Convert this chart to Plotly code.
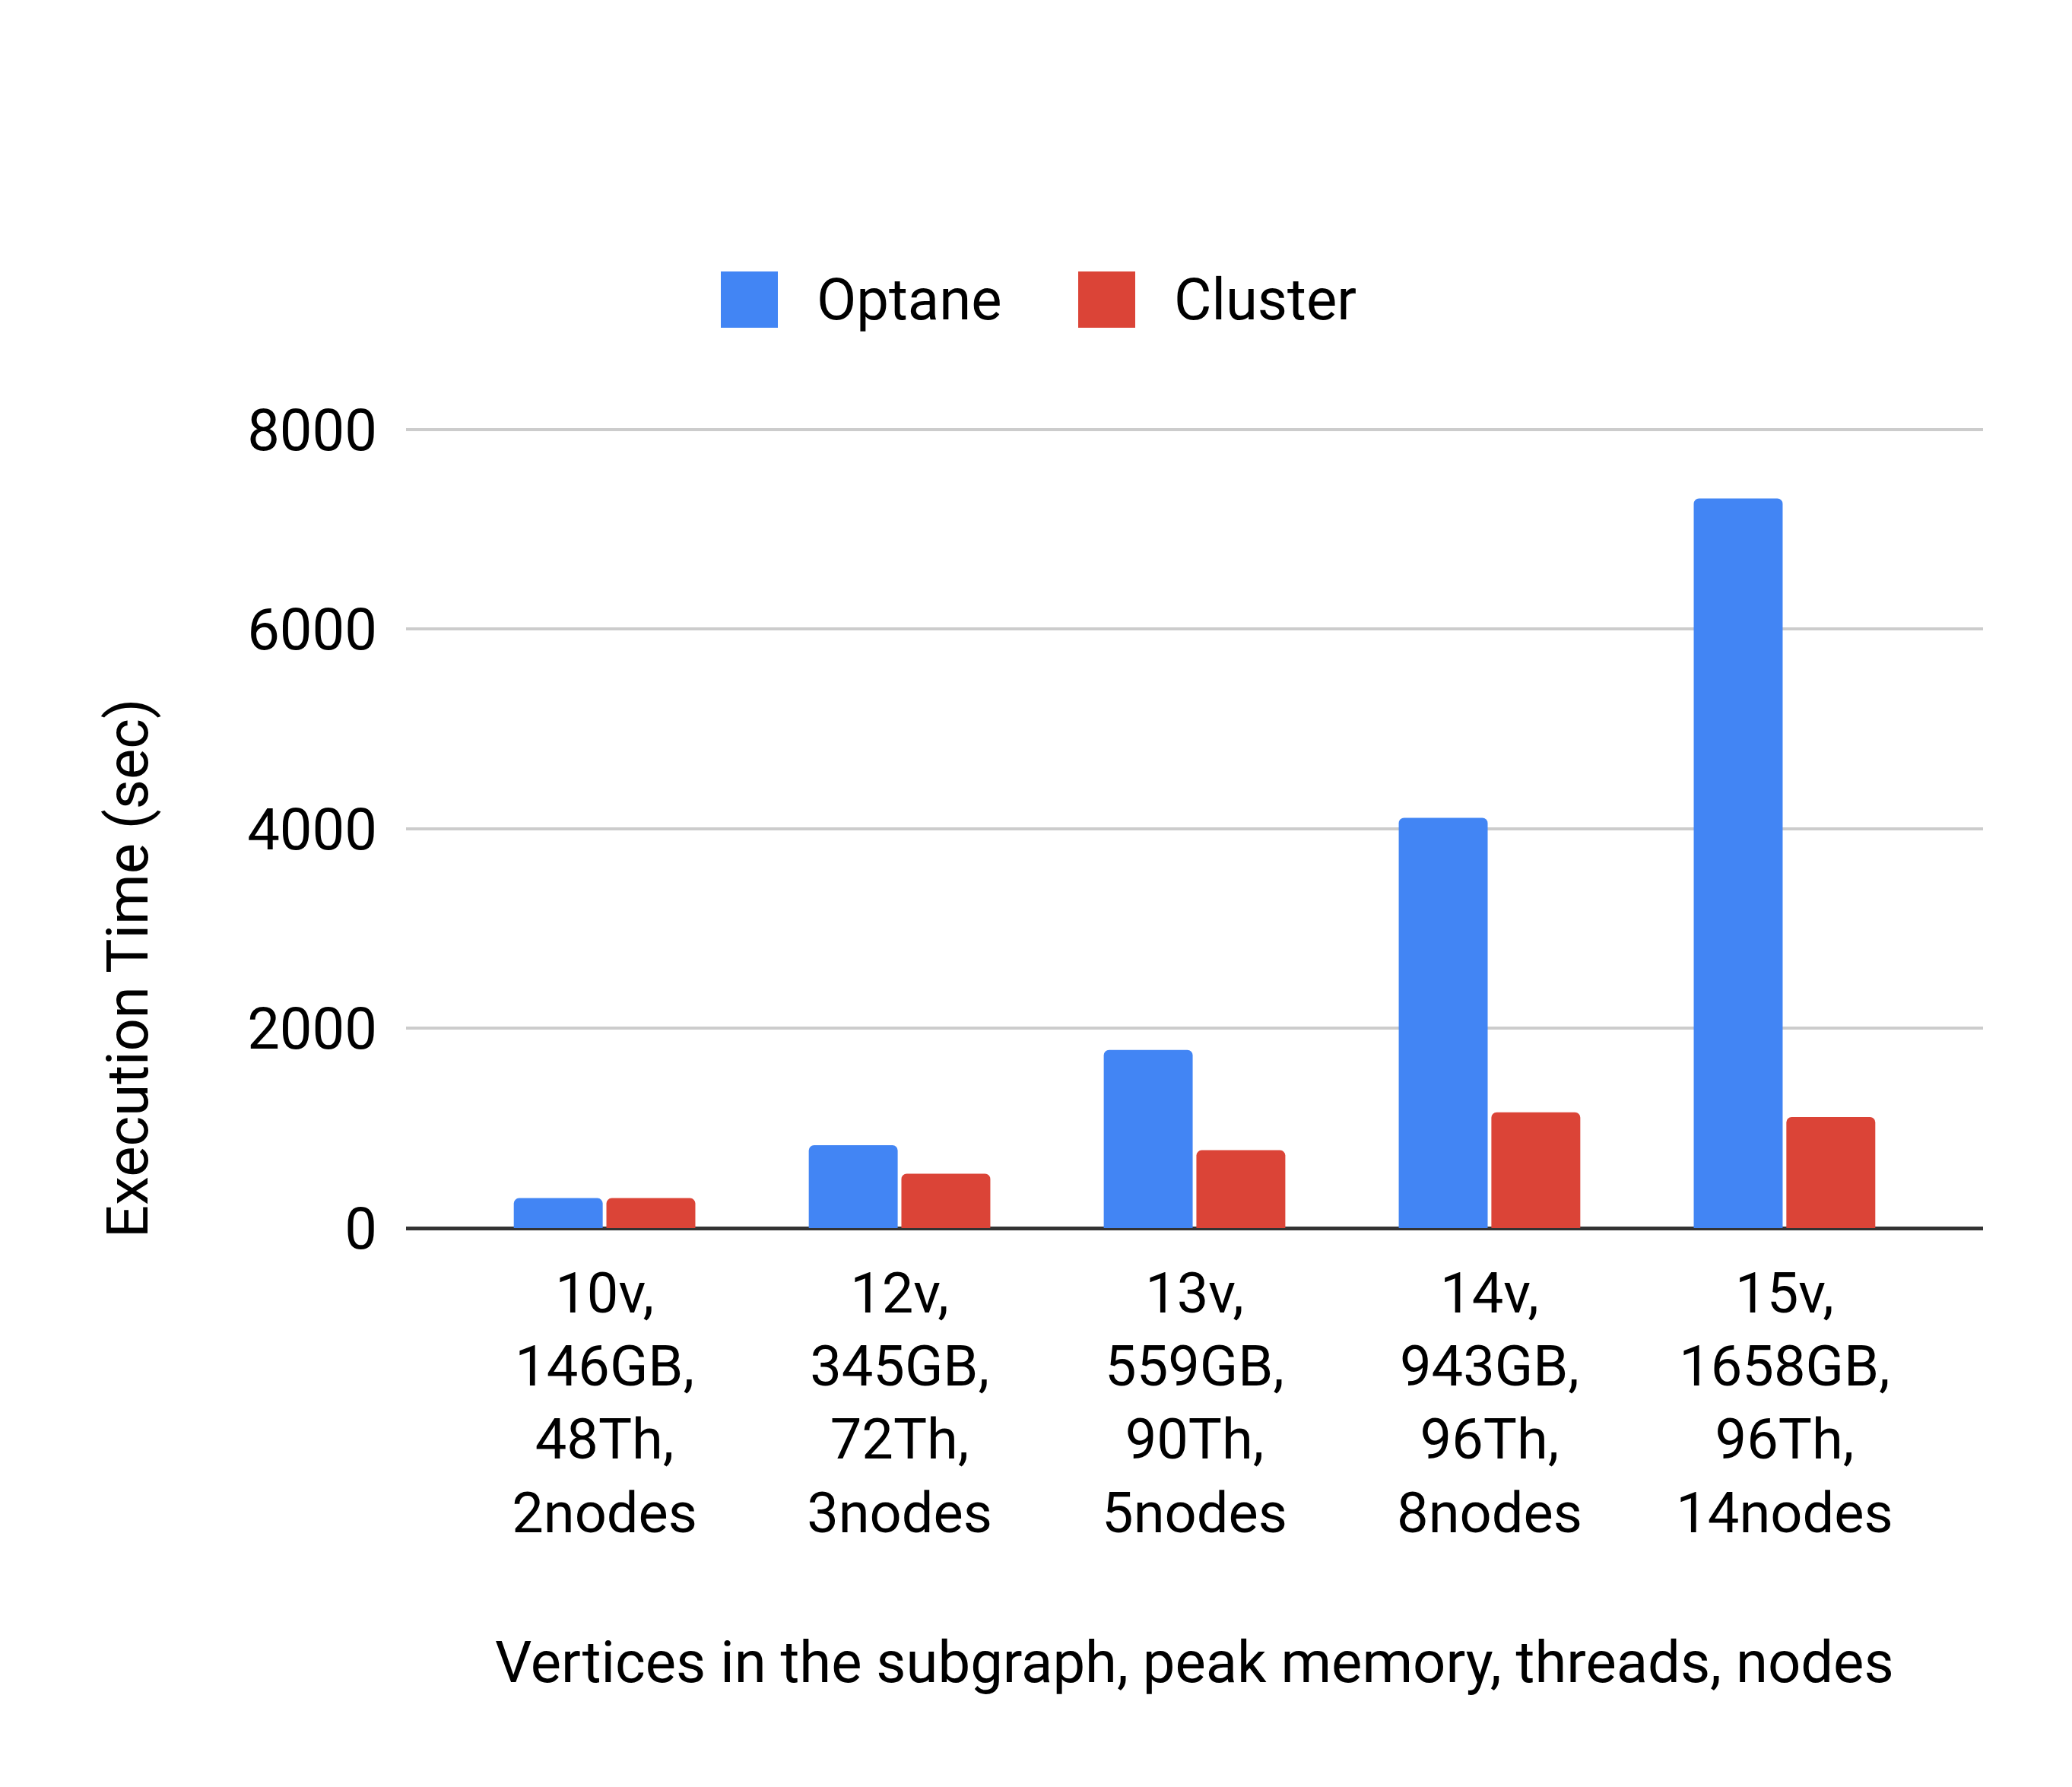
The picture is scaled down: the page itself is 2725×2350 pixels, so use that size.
import plotly.graph_objects as go

# data
categories = ['10v,<br>146GB,<br>48Th,<br>2nodes',
              '12v,<br>345GB,<br>72Th,<br>3nodes',
              '13v,<br>559GB,<br>90Th,<br>5nodes',
              '14v,<br>943GB,<br>96Th,<br>8nodes',
              '15v,<br>1658GB,<br>96Th,<br>14nodes']
optane = [300, 830, 1785, 4110, 7310]
cluster = [300, 545, 780, 1160, 1112]
series_names = ['Optane', 'Cluster']
series_colors = ['#4285F4', '#DB4437']
y_ticks = [0, 2000, 4000, 6000, 8000]

W, H = 2725, 2350
ML, MR, MT, MB = 526, 125, 555, 743
FONT = 'Roboto'
FS = 76

def px_x(p):
    # pixel -> paper x
    return (p - ML) / (W - ML - MR)

def px_y(p):
    # pixel (from top) -> paper y
    return (H - MB - p) / (H - MT - MB)

fig = go.Figure()
for name, vals, col in zip(series_names, [optane, cluster], series_colors):
    fig.add_trace(go.Bar(x=categories, y=vals, name=name,
                         marker=dict(color=col, line=dict(width=0), cornerradius=7),
                         showlegend=False))

# legend drawn by hand so the swatches are as big as in the original
legend_sw = [940, 1410]
for name, col, sx in zip(series_names, series_colors, legend_sw):
    fig.add_shape(type='rect', xref='paper', yref='paper',
                  x0=px_x(sx), x1=px_x(sx + 75), y0=px_y(423), y1=px_y(349),
                  fillcolor=col, line=dict(width=0), layer='above')
    fig.add_annotation(text=name, xref='paper', yref='paper',
                       x=px_x(sx + 124), y=px_y(386), xanchor='left', yanchor='middle',
                       showarrow=False, font=dict(family=FONT, size=FS, color='#000000'))

fig.add_annotation(text='Execution Time (sec)', xref='paper', yref='paper',
                   x=px_x(160), y=px_y(1265), textangle=-90,
                   xanchor='center', yanchor='middle', showarrow=False,
                   font=dict(family=FONT, size=FS, color='#000000'))
fig.add_annotation(text='Vertices in the subgraph, peak memory, threads, nodes',
                   xref='paper', yref='paper', x=0.5, y=px_y(2178),
                   xanchor='center', yanchor='middle', showarrow=False,
                   font=dict(family=FONT, size=FS, color='#000000'))

fig.update_layout(
    width=W, height=H,
    margin=dict(l=ML, r=MR, t=MT, b=MB),
    paper_bgcolor='white', plot_bgcolor='white',
    barmode='group', bargap=0.372, bargroupgap=0.04,
    font=dict(family=FONT, size=FS, color='#000000'),
    xaxis=dict(range=[-0.673, 4.673], showgrid=False, showline=False,
               ticks='', tickfont=dict(size=74), ticklabelstandoff=36),
    yaxis=dict(range=[0, 8015], tickvals=y_ticks, showgrid=True,
               gridcolor='#cccccc', gridwidth=4, zeroline=True,
               zerolinecolor='#333333', zerolinewidth=5, showline=False,
               ticks='', tickfont=dict(size=FS), ticklabelstandoff=37),
)

fig.write_html('out.html')
